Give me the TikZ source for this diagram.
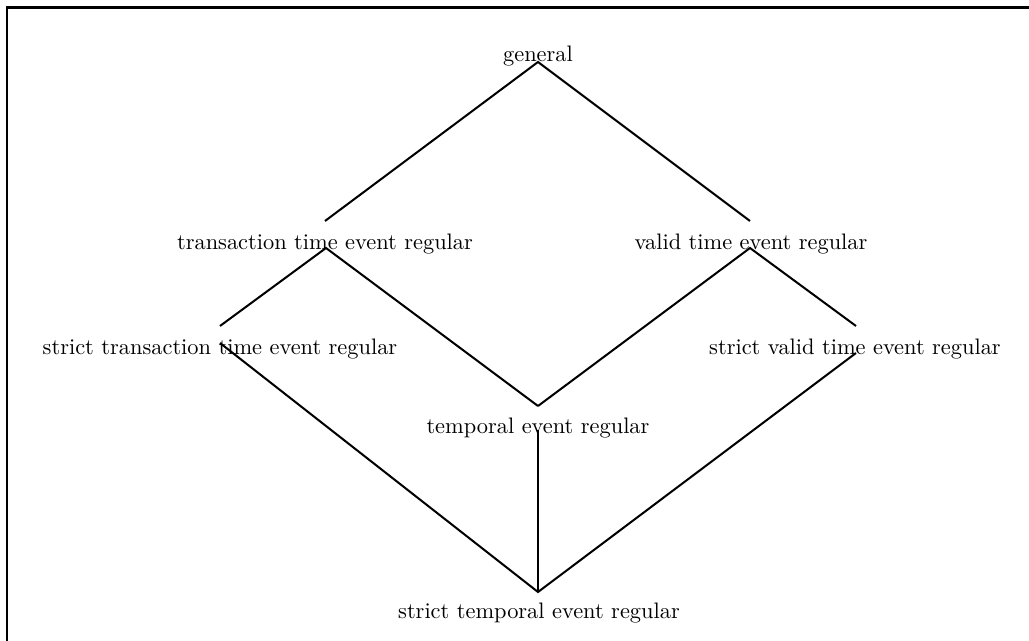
\documentclass[tikz,border=0pt]{standalone}
\begin{document}
\begin{tikzpicture}[x=0.4464pt,y=-0.4464pt,
  lbl/.style={anchor=base,inner sep=0pt,font=\fontsize{10}{12}\selectfont},
  conn/.style={line width=0.9pt},
  frameline/.style={line width=1pt}]
\useasboundingbox (0,0) rectangle (1029,641);
\coordinate (fb) at (1029,7.5);
\coordinate (fc) at (7,641);
\coordinate (fd) at (7,7.5);
\draw[frameline] (fb) -- (fd) -- (fc);
% labels
\node[lbl] (gen) at (538,62) {general};
\node[lbl] (tte) at (325,250) {transaction time event regular};
\node[lbl] (vte) at (751,250) {valid time event regular};
\node[lbl] (stte) at (220,355) {strict transaction time event regular};
\node[lbl] (svte) at (855,355) {strict valid time event regular};
\node[lbl] (te) at (538,434) {temporal event regular};
\node[lbl] (ste) at (539,619) {strict temporal event regular};
% attachment points
\coordinate (gen-b) at (538,62);
\coordinate (tte-t) at (325,221);
\coordinate (tte-b) at (326,248);
\coordinate (vte-t) at (750,221);
\coordinate (vte-b) at (750,248);
\coordinate (stte-t) at (220,326);
\coordinate (stte-b) at (220,343);
\coordinate (svte-t) at (856,326);
\coordinate (svte-b) at (856,353);
\coordinate (te-t) at (538,406);
\coordinate (te-b) at (538,430);
\coordinate (ste-t) at (538,592);
% connectors
\draw[conn] (tte-t) -- (gen-b) -- (vte-t);
\draw[conn] (stte-t) -- (tte-b) -- (te-t);
\draw[conn] (te-t) -- (vte-b) -- (svte-t);
\draw[conn] (stte-b) -- (ste-t) -- (svte-b);
\draw[conn] (te-b) -- (ste-t);
\end{tikzpicture}
\end{document}
